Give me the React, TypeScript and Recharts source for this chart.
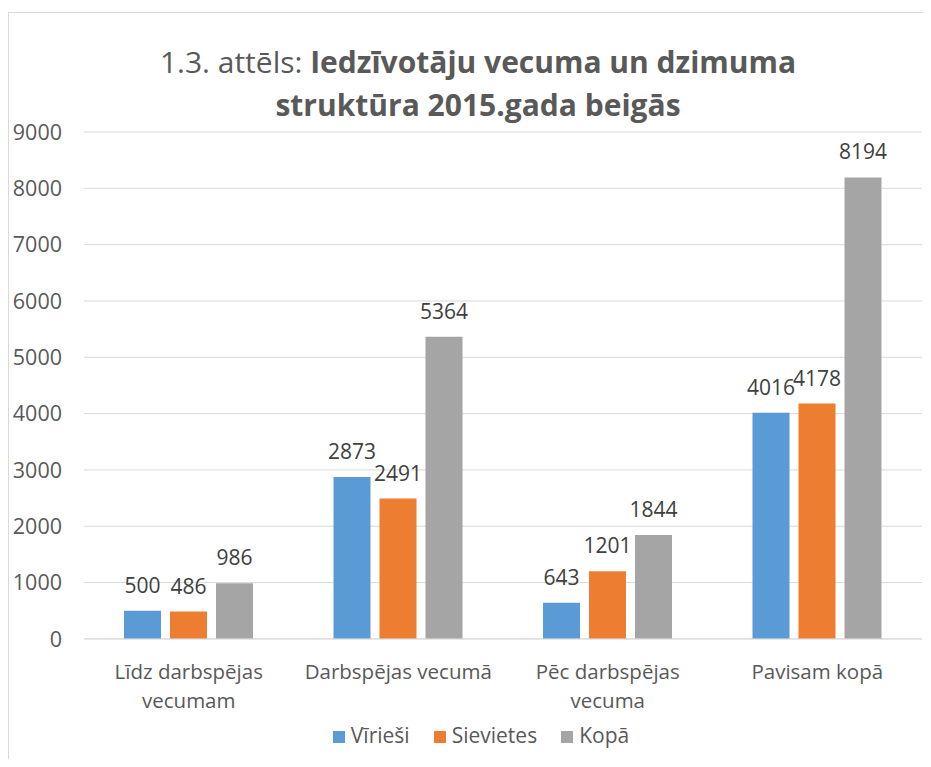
import React from "react";
import { Bar, BarChart, CartesianGrid, LabelList, Legend, XAxis, YAxis } from "recharts";

const categories = ["Līdz darbspējas\nvecumam", "Darbspējas vecumā", "Pēc darbspējas\nvecuma", "Pavisam kopā"];
const virieši = [500, 2873, 643, 4016];
const sievietes = [486, 2491, 1201, 4178];
const kopa = [986, 5364, 1844, 8194];
const seriesNames = ["Vīrieši", "Sievietes", "Kopā"];
const yTicks = [0, 1000, 2000, 3000, 4000, 5000, 6000, 7000, 8000, 9000];

const data = categories.map((name, i) => ({
  name,
  viriesi: virieši[i],
  sievietes: sievietes[i],
  kopa: kopa[i],
}));

const FONT = "'Open Sans', sans-serif";
const TEXT = "#595959";

function CategoryTick({ x, y, payload }: any) {
  const lines = String(payload.value).split("\n");
  return (
    <text x={x} y={y} textAnchor="middle" fill={TEXT} fontSize={20.5} fontFamily={FONT}>
      {lines.map((l, i) => (
        <tspan key={i} x={x} dy={i === 0 ? 38 : 29}>{l}</tspan>
      ))}
    </text>
  );
}

export default function App() {
  return (
    <div style={{ position: "relative", width: 931, height: 767, margin: -8, background: "#fff", fontFamily: FONT }}>
      <div style={{ position: "absolute", left: 8, top: 12, right: 0, bottom: 0, borderLeft: "1px solid #d9d9d9", borderTop: "1px solid #d9d9d9" }} />
      <div style={{ position: "absolute", left: 0, width: 956, top: 40, textAlign: "center", color: TEXT, fontSize: 30, lineHeight: "43px" }}>
        1.3. attēls: <b>Iedzīvotāju vecuma un dzimuma</b>
        <br />
        <b>struktūra 2015.gada beigās</b>
      </div>
      <BarChart width={931} height={767} data={data} margin={{ top: 132, right: 9, bottom: 128, left: 0 }} barSize={37} barGap={9}>
        <CartesianGrid vertical={false} stroke="#d9d9d9" />
        <XAxis dataKey="name" height={0.1} axisLine={{ stroke: "#d9d9d9" }} tickLine={false} tickSize={0} tick={<CategoryTick />} interval={0} />
        <YAxis width={84} domain={[0, 9000]} ticks={yTicks} axisLine={false} tickLine={false} tickSize={0} tickMargin={22}
          tick={{ fill: TEXT, fontSize: 21.5, fontFamily: FONT }} />
        <Legend verticalAlign="middle" align="center" iconType="square" iconSize={12}
          itemSorter={(item: any) => seriesNames.indexOf(item.value)}
          wrapperStyle={{ top: 721, left: 0, width: 986, fontSize: 21, fontFamily: FONT }}
          formatter={(v) => <span style={{ color: TEXT, marginRight: 14, marginLeft: 2 }}>{v}</span>} />
        <Bar dataKey="viriesi" name={seriesNames[0]} fill="#5b9bd5" isAnimationActive={false}>
          <LabelList dataKey="viriesi" position="top" offset={18} fill="#404040" fontSize={21} fontFamily={FONT} />
        </Bar>
        <Bar dataKey="sievietes" name={seriesNames[1]} fill="#ed7d31" isAnimationActive={false}>
          <LabelList dataKey="sievietes" position="top" offset={18} fill="#404040" fontSize={21} fontFamily={FONT} />
        </Bar>
        <Bar dataKey="kopa" name={seriesNames[2]} fill="#a5a5a5" isAnimationActive={false}>
          <LabelList dataKey="kopa" position="top" offset={18} fill="#404040" fontSize={21} fontFamily={FONT} />
        </Bar>
      </BarChart>
    </div>
  );
}
